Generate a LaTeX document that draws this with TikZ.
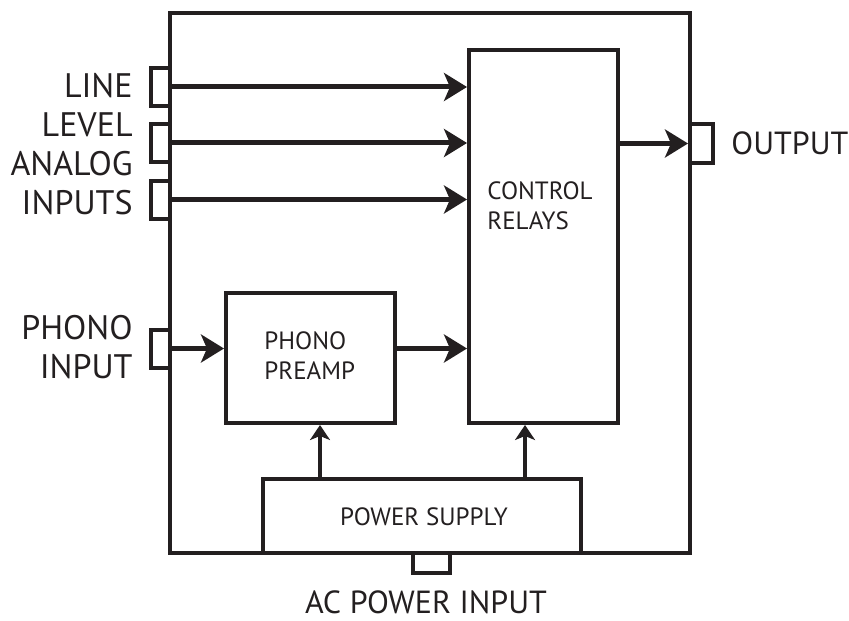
\documentclass[tikz,border=0pt]{standalone}
\usepackage{fontspec}
\setmainfont{PT Sans}
\usepackage{xcolor}
\usetikzlibrary{positioning,arrows.meta,calc}
\definecolor{ink}{RGB}{35,31,32}

\begin{document}
\begin{tikzpicture}[
      x=0.5pt, y=-0.5pt,
      block/.style={draw=ink, line width=2pt, inner sep=0pt},
      jack/.style={draw=ink, line width=2pt, fill=white, inner sep=0pt, minimum width=9.5pt, minimum height=19pt},
      label/.style={text=ink, font=\fontsize{17}{19.5}\selectfont, inner sep=0pt},
      inlabel/.style={text=ink, font=\fontsize{12.5}{15}\selectfont, align=left, inner sep=0pt},
      arr/.style={draw=ink, -{Stealth[length=11.5pt, width=14pt, inset=3pt]}, line width=2.5pt},
      parr/.style={draw=ink, -{Stealth[length=7.5pt, width=10pt, inset=2pt]}, line width=1.8pt}
  ]
    \useasboundingbox (0,0) rectangle (849,620);
    \node[block, minimum width=260pt, minimum height=270pt] (chassis) at (430,283) {};
    \node[block, minimum width=74.5pt, minimum height=186.5pt] (relays) at (543.5,236.5) {};
    \node[block, minimum width=84.5pt, minimum height=65pt] (preamp) at (310.5,358) {};
    \node[block, minimum width=159pt, minimum height=37pt, fill=white] (supply) at (422,516) {};
    \node[inlabel, anchor=west] at (487,206) {CONTROL\\RELAYS};
    \node[inlabel, anchor=west] at (264,356) {PHONO\\PREAMP};
    \node[inlabel] at (424,517) {POWER SUPPLY};
    % input jacks on the left wall
    \node[jack] (line1) at (160.5,87) {};
    \node[jack] (line2) at (160.5,143) {};
    \node[jack] (line3) at (160.5,199.5) {};
    \node[jack] (phono) at (160.5,348.5) {};
    \node[jack, minimum width=11.5pt, minimum height=19.5pt] (outjack) at (701.5,143.5) {};
    \node[jack, minimum width=18.5pt, minimum height=10pt] (acjack) at (431.5,563) {};
    \node[label, anchor=east, align=right] (linelbl) at (133,144) {LINE\\LEVEL\\ANALOG\\INPUTS};
    \node[label, anchor=east, align=right] (phonolbl) at (133,347) {PHONO\\INPUT};
    \node[label, anchor=west, font=\fontsize{16}{19.5}\selectfont] (outlbl) at (731,143) {OUTPUT};
    \node[label, font=\fontsize{16}{17}\selectfont] (aclbl) at (426,602) {AC POWER INPUT};
    \draw[arr] (line1.east) -- (line1.east -| relays.west);
    \draw[arr] (line2.east) -- (line2.east -| relays.west);
    \draw[arr] (line3.east) -- (line3.east -| relays.west);
    \draw[arr] (phono.east) -- (phono.east -| preamp.west);
    \draw[arr] (phono.east -| preamp.east) -- (phono.east -| relays.west);
    \draw[arr] (relays.east |- outjack.west) -- (outjack.west);
    \coordinate (pa) at ([xshift=4.75pt]preamp.south);
    \coordinate (ra) at ([xshift=-9.25pt]relays.south);
    \draw[parr] (pa |- supply.north) -- (pa);
    \draw[parr] (ra |- supply.north) -- (ra);
  \end{tikzpicture}
\end{document}
